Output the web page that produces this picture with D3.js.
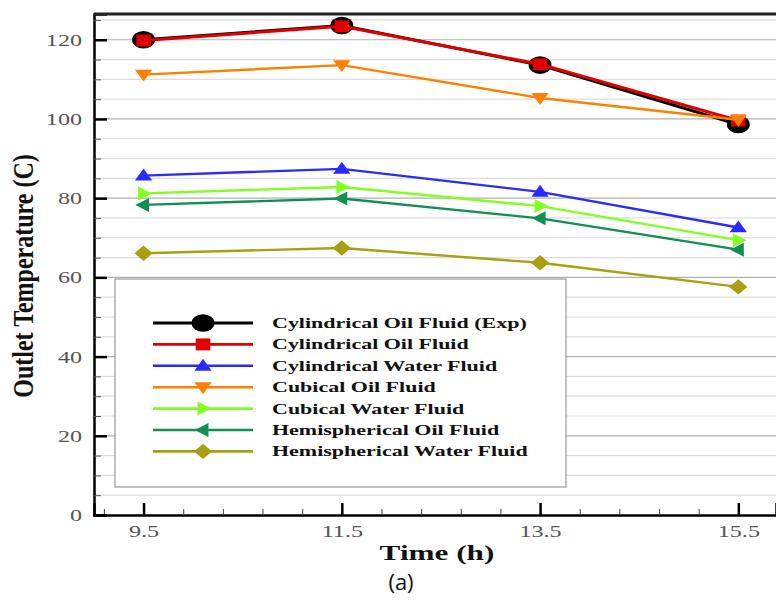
<!DOCTYPE html>
<html>
<head>
<meta charset="utf-8">
<script src="https://cdn.jsdelivr.net/npm/d3@7"></script>
<style>
  body { margin: 0; background: #fff; }
</style>
</head>
<body>
<svg width="776" height="601"></svg>
<script>
var times = [9.5, 11.5, 13.5, 15.5];
var seriesNames = ["Cylindrical Oil Fluid (Exp)", "Cylindrical Oil Fluid", "Cylindrical Water Fluid",
  "Cubical Oil Fluid", "Cubical Water Fluid", "Hemispherical Oil Fluid", "Hemispherical Water Fluid"];
var cylOilExp   = [120.0, 123.6, 113.6, 98.6];
var cylOil      = [119.8, 123.4, 113.8, 99.6];
var cylWater    = [85.7, 87.4, 81.6, 72.6];
var cubOil      = [111.2, 113.6, 105.3, 99.8];
var cubWater    = [81.2, 82.8, 78.0, 69.4];
var hemiOil     = [78.3, 79.9, 74.9, 67.0];
var hemiWater   = [66.1, 67.4, 63.7, 57.6];
var colors = ["#000000", "#e00000", "#2a2aff", "#ff8000", "#80ff20", "#109050", "#a8a010"];
var symbols = ["circle", "square", "up", "down", "right", "left", "diamond"];
var allValues = [cylOilExp, cylOil, cylWater, cubOil, cubWater, hemiOil, hemiWater];

var stretch = 1.42;   // the figure is widened horizontally

var svg = d3.select("svg"),
    margin = {top: 14, right: 0, bottom: 86, left: 94},
    width = +svg.attr("width") - margin.left - margin.right,
    height = +svg.attr("height") - margin.top - margin.bottom,
    g = svg.append("g").attr("transform", "translate(" + margin.left + "," + margin.top + ")");

var x = d3.scaleLinear().domain([9.0, 15.88]).range([0, width]);
var y = d3.scaleLinear().domain([0, 126.5]).range([height, 0]);

// horizontal grid every 5
g.append("g").selectAll("line")
  .data(d3.range(5, 126, 5))
  .enter().append("line")
    .attr("x1", 0).attr("x2", width)
    .attr("y1", function(d) { return y(d); })
    .attr("y2", function(d) { return y(d); })
    .attr("stroke", function(d) { return d % 20 === 0 ? "#b0b0b0" : "#dedede"; })
    .attr("stroke-width", 1.2);

// legend box (behind lines)
var legend = g.append("g");
legend.append("rect")
  .attr("x", 21).attr("y", 265).attr("width", 451).attr("height", 208)
  .attr("fill", "#fff").attr("stroke", "#999").attr("stroke-width", 1.2);

function styleTicks(sel) {
  sel.selectAll("text")
    .attr("font-family", "Liberation Serif, serif")
    .attr("font-size", 17)
    .attr("fill", "#555");
}

// axes
var xAxis = g.append("g").attr("transform", "translate(0," + height + ")")
  .call(d3.axisBottom(x).tickValues(times).tickFormat(d3.format(".1f")).tickSize(-12).tickPadding(10));
xAxis.select(".domain").attr("stroke", "#000").attr("stroke-width", 2.5);
xAxis.selectAll(".tick line").attr("stroke", "#000").attr("stroke-width", 2.5);
styleTicks(xAxis);
xAxis.selectAll("text").attr("transform", "scale(" + stretch + ",1)");
g.append("g").attr("transform", "translate(0," + height + ")")
  .call(d3.axisBottom(x).tickValues(d3.range(9.1, 15.9, 0.4).filter(function(v) {
      return Math.abs((v - 9.5) / 2 - Math.round((v - 9.5) / 2)) > 0.01; }))
    .tickSize(-6).tickFormat(""))
  .call(function(a) { a.select(".domain").remove(); a.selectAll("line").attr("stroke", "#444"); });

var yAxis = g.append("g")
  .call(d3.axisLeft(y).tickValues(d3.range(0, 121, 20)).tickSize(-13).tickPadding(12));
yAxis.select(".domain").attr("stroke", "#000").attr("stroke-width", 2.5);
yAxis.selectAll(".tick line").attr("stroke", "#000").attr("stroke-width", 2.5);
styleTicks(yAxis);
yAxis.selectAll("text").attr("x", -12 / stretch).attr("transform", "scale(" + stretch + ",1)");
g.append("g")
  .call(d3.axisLeft(y).tickValues(d3.range(5, 126, 5).filter(function(v) { return v % 20 !== 0; }))
    .tickSize(-7).tickFormat(""))
  .call(function(a) { a.select(".domain").remove(); a.selectAll("line").attr("stroke", "#555"); });

// top border
g.append("line").attr("x1", 0).attr("x2", width).attr("y1", 0).attr("y2", 0)
  .attr("stroke", "#222").attr("stroke-width", 3);

var line = d3.line()
  .x(function(d, i) { return x(times[i]); })
  .y(function(d) { return y(d); });

function marker(sel, type, color, size) {
  var s = size;
  var m = sel.append("g").attr("transform", "scale(1.3,1)");
  if (type === "circle") {
    m.append("circle").attr("r", s * 1.1).attr("fill", color);
  } else if (type === "square") {
    m.append("rect").attr("x", -s * 0.8).attr("y", -s * 0.85)
      .attr("width", s * 1.6).attr("height", s * 1.7).attr("fill", color);
  } else {
    var pts = {
      up: [[0, -s], [s * 0.95, s * 0.7], [-s * 0.95, s * 0.7]],
      down: [[0, s], [s * 0.95, -s * 0.7], [-s * 0.95, -s * 0.7]],
      right: [[s * 0.9, 0], [-s * 0.6, -s], [-s * 0.6, s]],
      left: [[-s * 0.9, 0], [s * 0.6, -s], [s * 0.6, s]],
      diamond: [[0, -s * 1.1], [s * 1.0, 0], [0, s * 1.1], [-s * 1.0, 0]]
    }[type];
    m.append("path").attr("d", "M" + pts.join("L") + "Z").attr("fill", color);
  }
}

allValues.forEach(function(vals, k) {
  g.append("path")
    .datum(vals)
    .attr("fill", "none")
    .attr("stroke", colors[k])
    .attr("stroke-width", k < 2 ? 3 : 2.4)
    .attr("d", line);
  vals.forEach(function(v, i) {
    var m = g.append("g").attr("transform", "translate(" + x(times[i]) + "," + y(v) + ")");
    marker(m, symbols[k], colors[k], k === 0 ? 8 : 7);
  });
});

// legend entries
seriesNames.forEach(function(name, k) {
  var ly = 309 + k * 21.4;
  var row = legend.append("g").attr("transform", "translate(0," + ly + ")");
  row.append("line").attr("x1", 59).attr("x2", 159).attr("y1", 0).attr("y2", 0)
    .attr("stroke", colors[k]).attr("stroke-width", k === 0 ? 3 : 2.6);
  var m = row.append("g").attr("transform", "translate(109,0)");
  marker(m, symbols[k], colors[k], k === 0 ? 8 : 7);
  row.append("g").attr("transform", "translate(178,5) scale(" + stretch + ",1)")
    .append("text")
    .attr("font-family", "Liberation Serif, serif").attr("font-weight", "bold")
    .attr("font-size", 15.5).attr("fill", "#111")
    .text(name);
});

// axis titles
svg.append("text")
  .attr("transform", "translate(33,276) rotate(-90) scale(1,1.25)")
  .attr("text-anchor", "middle")
  .attr("font-family", "Liberation Serif, serif").attr("font-weight", "bold")
  .attr("font-size", 24).attr("fill", "#111")
  .text("Outlet Temperature (C)");
svg.append("text")
  .attr("transform", "translate(437,560) scale(" + stretch + ",1)")
  .attr("text-anchor", "middle")
  .attr("font-family", "Liberation Serif, serif").attr("font-weight", "bold")
  .attr("font-size", 22).attr("fill", "#111")
  .text("Time (h)");
svg.append("text")
  .attr("x", 401).attr("y", 590)
  .attr("text-anchor", "middle")
  .attr("font-family", "Open Sans, sans-serif")
  .attr("font-size", 22).attr("fill", "#111")
  .text("(a)");
</script>
</body>
</html>
